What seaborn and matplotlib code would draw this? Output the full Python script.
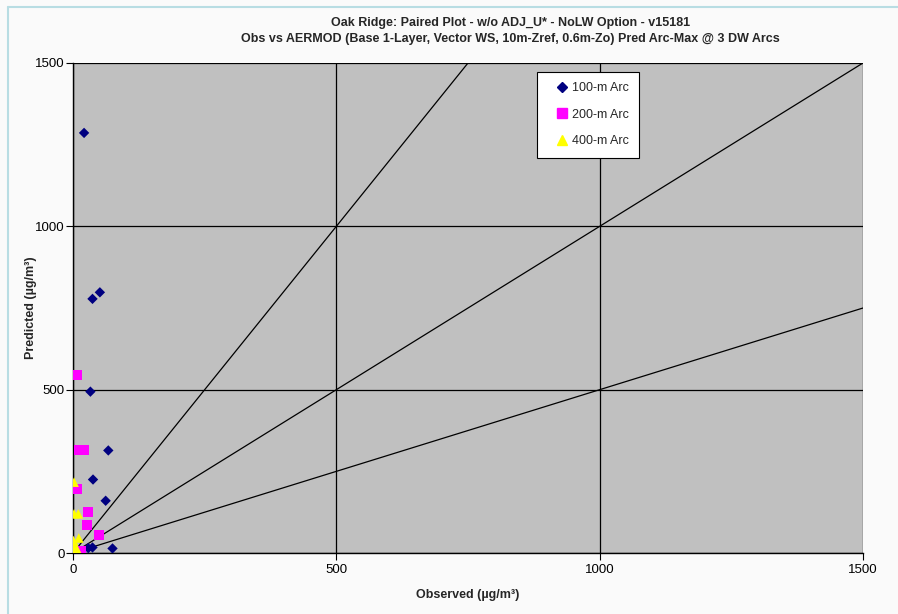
import matplotlib
matplotlib.use("Agg")
import matplotlib.pyplot as plt
import seaborn as sns
import pandas as pd
import numpy as np
from matplotlib.lines import Line2D
from matplotlib.legend_handler import HandlerLine2D

sns.set_theme(style="white")
plt.rcParams['font.family'] = ['Liberation Sans', 'DejaVu Sans']

# Data
arc100_obs = [21, 37, 51, 33, 67, 38, 62, 75, 37, 29]
arc100_pred = [1286, 778, 798, 494, 314, 225, 160, 14, 17, 15]
arc200_obs = [8, 11, 22, 8, 29, 26, 49, 15, 4]
arc200_pred = [545, 316, 316, 196, 125, 85, 55, 6, 4]
arc400_obs = [2, 2, 10, 11, 2, 1, 2, 5, 8, 3]
arc400_pred = [217, 120, 120, 46, 27, 38, 0, 5, 10, 15]
series_names = ["100-m Arc", "200-m Arc", "400-m Arc"]
ticks = [0, 500, 1000, 1500]
ref_slopes = [2.0, 1.0, 0.5]

df = pd.concat([
    pd.DataFrame({"obs": arc100_obs, "pred": arc100_pred, "arc": series_names[0]}),
    pd.DataFrame({"obs": arc200_obs, "pred": arc200_pred, "arc": series_names[1]}),
    pd.DataFrame({"obs": arc400_obs, "pred": arc400_pred, "arc": series_names[2]}),
])

colors = {series_names[0]: "#000080", series_names[1]: "#FF00FF", series_names[2]: "#FFFF00"}
markers = {series_names[0]: "D", series_names[1]: "s", series_names[2]: "^"}
sizes = {series_names[0]: 28, series_names[1]: 48, series_names[2]: 48}

fig = plt.figure(figsize=(8.98, 6.14), dpi=100, facecolor="#FAFAFA")
ax = fig.add_axes([0.0813, 0.0993, 0.8797, 0.7981])
ax.set_facecolor("#C0C0C0")

# reference lines
for s in ref_slopes:
    ax.plot([0, 1500], [0, 1500 * s], color="black", lw=0.9, zorder=2)

for name in series_names:
    sub = df[df.arc == name]
    sns.scatterplot(data=sub, x="obs", y="pred", ax=ax, color=colors[name],
                    marker=markers[name], s=sizes[name], edgecolor="none",
                    linewidth=0, zorder=3, legend=False)

ax.set_xlim(0, 1500)
ax.set_ylim(0, 1500)
ax.set_xticks(ticks)
ax.set_yticks(ticks)
ax.set_xticklabels([str(t) for t in ticks], fontsize=9.5)
ax.set_yticklabels([str(t) for t in ticks], fontsize=9.5)
ax.grid(True, color="black", lw=0.9)
ax.set_axisbelow(True)
ax.tick_params(axis="x", direction="out", length=5, width=0.8, color="black",
               bottom=True, pad=3, labelcolor="black")
ax.tick_params(axis="y", direction="out", length=5, width=0.8, color="black",
               left=True, pad=1, labelcolor="black")
for side in ["top", "right"]:
    ax.spines[side].set_visible(False)
ax.spines["left"].set_color("black")
ax.spines["bottom"].set_color("black")
ax.spines["left"].set_linewidth(1.0)
ax.spines["bottom"].set_linewidth(1.0)

ax.set_xlabel("Observed (µg/m³)", fontsize=9, fontweight="bold", labelpad=9)
ax.set_ylabel("Predicted (µg/m³)", fontsize=9, fontweight="bold")
ax.yaxis.set_label_coords(-0.046, 0.5)

fig.text(0.568, 1 - 23 / 614, "Oak Ridge: Paired Plot - w/o ADJ_U* - NoLW Option - v15181",
         ha="center", va="center", fontsize=9, fontweight="bold")
fig.text(0.568, 1 - 39 / 614, "Obs vs AERMOD (Base 1-Layer, Vector WS, 10m-Zref, 0.6m-Zo) Pred Arc-Max @ 3 DW Arcs",
         ha="center", va="center", fontsize=9, fontweight="bold")


class RightMarker(HandlerLine2D):
    def get_xdata(self, legend, xdescent, ydescent, width, height, fontsize):
        xm = -xdescent + width - 4
        return np.array([xm, xm]), np.array([xm])


handles = [Line2D([], [], linestyle="none", marker=markers[n], color=colors[n],
                  markersize=5 if n == series_names[0] else 6.5) for n in series_names]
leg = ax.legend(handles, series_names, loc="upper left", bbox_to_anchor=(0.587, 0.982),
                frameon=True, fancybox=False, fontsize=9, handletextpad=0.3,
                handlelength=1.65, labelspacing=1.15, borderpad=0.85, borderaxespad=0,
                handler_map={Line2D: RightMarker(numpoints=1)})
leg.get_frame().set_edgecolor("black")
leg.get_frame().set_linewidth(0.8)
leg.get_frame().set_facecolor("white")
leg.get_frame().set_alpha(1)

# light blue border at top/left
fig.add_artist(Line2D([8 / 898, 1], [1 - 7 / 614, 1 - 7 / 614], color="#B8DDE3", lw=1.5))
fig.add_artist(Line2D([8 / 898, 8 / 898], [0, 1 - 7 / 614], color="#B8DDE3", lw=1.5))

fig.savefig("out.png", dpi=100, facecolor=fig.get_facecolor())
